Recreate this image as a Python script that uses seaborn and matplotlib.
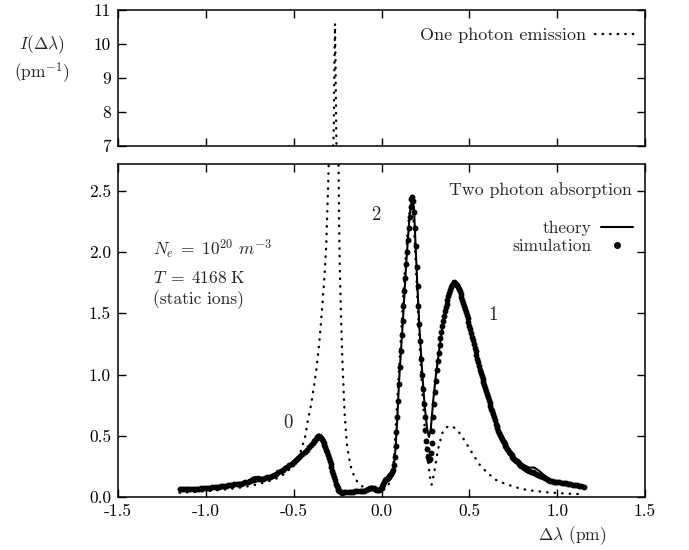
import numpy as np
import pandas as pd
import matplotlib
matplotlib.use("Agg")
import matplotlib.pyplot as plt
import seaborn as sns
from matplotlib.lines import Line2D

# ---------------- data ----------------
theory_x = [-1.15, -1.10, -1.05, -1.00, -0.95, -0.90, -0.85, -0.80, -0.76, -0.73,
            -0.70, -0.67, -0.64, -0.60, -0.56, -0.52, -0.48, -0.44, -0.40, -0.37,
            -0.35, -0.33, -0.31, -0.29, -0.27, -0.25, -0.23, -0.20, -0.15, -0.10,
            -0.07, -0.05, -0.03, 0.00, 0.02, 0.04, 0.06, 0.07, 0.08, 0.09,
            0.10, 0.12, 0.14, 0.16, 0.175, 0.185, 0.20, 0.215, 0.23, 0.245,
            0.26, 0.27, 0.28, 0.295, 0.31, 0.33, 0.35, 0.37, 0.39, 0.41,
            0.43, 0.45, 0.48, 0.51, 0.54, 0.57, 0.60, 0.63, 0.66, 0.70,
            0.75, 0.80, 0.84, 0.87, 0.90, 0.94, 0.98, 1.02, 1.06, 1.10, 1.15]
theory_y = [0.060, 0.062, 0.065, 0.070, 0.080, 0.090, 0.100, 0.110, 0.130, 0.160,
            0.165, 0.150, 0.160, 0.190, 0.230, 0.270, 0.320, 0.370, 0.430, 0.490,
            0.490, 0.440, 0.370, 0.270, 0.160, 0.080, 0.040, 0.040, 0.045, 0.050,
            0.070, 0.080, 0.060, 0.060, 0.120, 0.160, 0.200, 0.250, 0.400, 0.650,
            0.950, 1.400, 1.900, 2.300, 2.460, 2.350, 1.850, 1.400, 1.050, 0.750,
            0.550, 0.490, 0.550, 0.800, 1.000, 1.220, 1.420, 1.570, 1.700, 1.750,
            1.740, 1.670, 1.520, 1.340, 1.160, 0.980, 0.840, 0.700, 0.560, 0.440,
            0.330, 0.270, 0.240, 0.240, 0.210, 0.160, 0.130, 0.120, 0.110, 0.095, 0.085]

sim_x = [
    -1.1500, -1.1375, -1.1250, -1.1125, -1.1000, -1.0875, -1.0750, -1.0625, -1.0500, -1.0375,
    -1.0250, -1.0125, -1.0000, -0.9875, -0.9750, -0.9625, -0.9500, -0.9375, -0.9250, -0.9125,
    -0.9000, -0.8875, -0.8750, -0.8625, -0.8500, -0.8375, -0.8250, -0.8125, -0.8000, -0.7875,
    -0.7750, -0.7625, -0.7500, -0.7375, -0.7250, -0.7125, -0.7000, -0.6875, -0.6750, -0.6625,
    -0.6500, -0.6375, -0.6250, -0.6125, -0.6000, -0.5875, -0.5750, -0.5625, -0.5500, -0.5375,
    -0.5250, -0.5125, -0.5000, -0.4875, -0.4750, -0.4625, -0.4500, -0.4375, -0.4250, -0.4125,
    -0.4000, -0.3925, -0.3850, -0.3775, -0.3700, -0.3650, -0.3600, -0.3550, -0.3500, -0.3450,
    -0.3400, -0.3350, -0.3300, -0.3250, -0.3200, -0.3150, -0.3100, -0.3050, -0.3000, -0.2950,
    -0.2900, -0.2850, -0.2800, -0.2750, -0.2700, -0.2650, -0.2600, -0.2550, -0.2500, -0.2450,
    -0.2400, -0.2325, -0.2250, -0.2125, -0.2000, -0.1875, -0.1750, -0.1625, -0.1500, -0.1375,
    -0.1250, -0.1125, -0.1000, -0.0875, -0.0750, -0.0675, -0.0600, -0.0525, -0.0450, -0.0375,
    -0.0300, -0.0225, -0.0150, -0.0075, 0.0000, 0.0050, 0.0100, 0.0150, 0.0200, 0.0250,
    0.0300, 0.0350, 0.0400, 0.0450, 0.0500, 0.0550, 0.0600, 0.0650, 0.0700, 0.0750,
    0.0800, 0.0850, 0.0900, 0.0950, 0.1000, 0.1050, 0.1100, 0.1150, 0.1200, 0.1250,
    0.1300, 0.1350, 0.1400, 0.1450, 0.1500, 0.1550, 0.1600, 0.1650, 0.1700, 0.1750,
    0.1800, 0.1850, 0.1900, 0.1950, 0.2000, 0.2050, 0.2100, 0.2150, 0.2200, 0.2250,
    0.2300, 0.2350, 0.2400, 0.2450, 0.2500, 0.2550, 0.2600, 0.2650, 0.2700, 0.2750,
    0.2800, 0.2850, 0.2900, 0.2950, 0.3000, 0.3050, 0.3100, 0.3150, 0.3200, 0.3250,
    0.3300, 0.3350, 0.3400, 0.3450, 0.3500, 0.3550, 0.3600, 0.3650, 0.3700, 0.3750,
    0.3800, 0.3850, 0.3900, 0.3950, 0.4000, 0.4050, 0.4100, 0.4150, 0.4200, 0.4250,
    0.4300, 0.4350, 0.4400, 0.4450, 0.4500, 0.4550, 0.4600, 0.4650, 0.4700, 0.4750,
    0.4800, 0.4850, 0.4900, 0.4950, 0.5000, 0.5050, 0.5100, 0.5150, 0.5200, 0.5250,
    0.5300, 0.5350, 0.5400, 0.5450, 0.5500, 0.5550, 0.5600, 0.5650, 0.5700, 0.5750,
    0.5800, 0.5850, 0.5900, 0.5950, 0.6000, 0.6050, 0.6100, 0.6150, 0.6200, 0.6250,
    0.6300, 0.6350, 0.6400, 0.6450, 0.6500, 0.6550, 0.6600, 0.6650, 0.6700, 0.6750,
    0.6800, 0.6850, 0.6900, 0.6950, 0.7000, 0.7050, 0.7100, 0.7150, 0.7200, 0.7250,
    0.7300, 0.7350, 0.7400, 0.7450, 0.7500, 0.7550, 0.7600, 0.7650, 0.7700, 0.7750,
    0.7800, 0.7850, 0.7900, 0.7950, 0.8000, 0.8100, 0.8200, 0.8300, 0.8400, 0.8500,
    0.8600, 0.8700, 0.8800, 0.8900, 0.9000, 0.9100, 0.9200, 0.9300, 0.9400, 0.9500,
    0.9600, 0.9700, 0.9800, 0.9900, 1.0000, 1.0125, 1.0250, 1.0375, 1.0500, 1.0625,
    1.0750, 1.0875, 1.1000, 1.1125, 1.1250, 1.1375, 1.1500]
sim_y = [
    0.065, 0.066, 0.065, 0.064, 0.063, 0.065, 0.066, 0.067, 0.068, 0.069,
    0.070, 0.072, 0.073, 0.075, 0.077, 0.078, 0.080, 0.083, 0.085, 0.088,
    0.090, 0.093, 0.095, 0.098, 0.100, 0.103, 0.105, 0.108, 0.110, 0.115,
    0.120, 0.125, 0.130, 0.135, 0.140, 0.143, 0.145, 0.148, 0.150, 0.155,
    0.160, 0.167, 0.175, 0.182, 0.190, 0.200, 0.210, 0.222, 0.235, 0.247,
    0.260, 0.272, 0.285, 0.300, 0.315, 0.332, 0.350, 0.367, 0.385, 0.405,
    0.425, 0.440, 0.455, 0.468, 0.480, 0.488, 0.495, 0.494, 0.490, 0.481,
    0.470, 0.456, 0.440, 0.423, 0.405, 0.385, 0.365, 0.343, 0.320, 0.295,
    0.270, 0.243, 0.215, 0.188, 0.160, 0.135, 0.110, 0.090, 0.070, 0.056,
    0.045, 0.040, 0.035, 0.037, 0.040, 0.041, 0.042, 0.043, 0.045, 0.046,
    0.048, 0.050, 0.052, 0.058, 0.065, 0.070, 0.075, 0.073, 0.070, 0.065,
    0.060, 0.060, 0.060, 0.064, 0.070, 0.090, 0.110, 0.126, 0.140, 0.146,
    0.150, 0.155, 0.160, 0.170, 0.180, 0.190, 0.200, 0.220, 0.260, 0.330,
    0.420, 0.530, 0.650, 0.780, 0.920, 1.060, 1.190, 1.320, 1.440, 1.560,
    1.680, 1.790, 1.900, 2.000, 2.100, 2.200, 2.290, 2.370, 2.430, 2.450,
    2.420, 2.330, 2.200, 2.050, 1.880, 1.720, 1.560, 1.410, 1.270, 1.130,
    1.000, 0.880, 0.760, 0.650, 0.550, 0.460, 0.390, 0.330, 0.300, 0.310,
    0.360, 0.440, 0.540, 0.650, 0.760, 0.860, 0.950, 1.040, 1.110, 1.180,
    1.240, 1.300, 1.350, 1.400, 1.440, 1.480, 1.515, 1.548, 1.580, 1.610,
    1.640, 1.665, 1.690, 1.712, 1.730, 1.742, 1.750, 1.754, 1.750, 1.742,
    1.730, 1.716, 1.700, 1.680, 1.660, 1.636, 1.610, 1.585, 1.560, 1.535,
    1.510, 1.485, 1.460, 1.430, 1.400, 1.370, 1.340, 1.310, 1.280, 1.250,
    1.220, 1.190, 1.160, 1.130, 1.100, 1.070, 1.040, 1.015, 0.990, 0.965,
    0.940, 0.915, 0.890, 0.865, 0.840, 0.815, 0.790, 0.765, 0.740, 0.720,
    0.700, 0.675, 0.650, 0.625, 0.600, 0.580, 0.560, 0.540, 0.520, 0.505,
    0.490, 0.475, 0.460, 0.445, 0.430, 0.418, 0.405, 0.392, 0.380, 0.370,
    0.360, 0.350, 0.340, 0.330, 0.320, 0.312, 0.305, 0.297, 0.290, 0.282,
    0.275, 0.268, 0.262, 0.256, 0.250, 0.240, 0.230, 0.222, 0.215, 0.207,
    0.200, 0.195, 0.190, 0.182, 0.175, 0.168, 0.160, 0.152, 0.145, 0.137,
    0.130, 0.127, 0.125, 0.122, 0.120, 0.119, 0.118, 0.115, 0.112, 0.108,
    0.105, 0.101, 0.098, 0.094, 0.090, 0.087, 0.085]

emis_x = [-1.15, -1.10, -1.05, -1.00, -0.95, -0.90, -0.85, -0.80, -0.75, -0.70,
          -0.65, -0.60, -0.55, -0.50, -0.47, -0.45, -0.435, -0.42, -0.40, -0.385,
          -0.37, -0.355, -0.345, -0.335, -0.325, -0.315, -0.305, -0.30, -0.29, -0.28,
          -0.272, -0.268, -0.265, -0.262, -0.258, -0.25, -0.245, -0.242, -0.238, -0.231,
          -0.225, -0.219, -0.21, -0.198, -0.185, -0.17, -0.155, -0.14, -0.12, -0.10,
          -0.07, -0.04, -0.01, 0.02, 0.05, 0.07, 0.09, 0.11, 0.13, 0.15,
          0.165, 0.175, 0.185, 0.20, 0.215, 0.23, 0.245, 0.26, 0.275, 0.285,
          0.30, 0.32, 0.345, 0.37, 0.40, 0.43, 0.46, 0.49, 0.52, 0.56,
          0.60, 0.65, 0.70, 0.75, 0.80, 0.85, 0.90, 0.95, 1.00, 1.05, 1.10, 1.15]
emis_y = [0.035, 0.038, 0.042, 0.047, 0.053, 0.060, 0.068, 0.078, 0.090, 0.105,
          0.125, 0.150, 0.190, 0.260, 0.330, 0.420, 0.490, 0.620, 0.760, 0.900,
          1.050, 1.250, 1.420, 1.600, 1.800, 2.050, 2.500, 2.750, 4.000, 6.000,
          7.500, 9.500, 10.600, 9.500, 7.500, 5.000, 2.750, 2.300, 1.900, 1.500,
          1.200, 0.980, 0.680, 0.440, 0.320, 0.220, 0.170, 0.130, 0.100, 0.075,
          0.060, 0.050, 0.050, 0.070, 0.120, 0.300, 0.800, 1.300, 1.800, 2.200,
          2.400, 2.400, 2.200, 1.750, 1.300, 0.900, 0.580, 0.350, 0.170, 0.100,
          0.200, 0.380, 0.520, 0.570, 0.580, 0.550, 0.490, 0.420, 0.350, 0.260,
          0.200, 0.140, 0.110, 0.085, 0.065, 0.053, 0.045, 0.037, 0.032, 0.028, 0.025, 0.023]

x_ticks = [-1.5, -1.0, -0.5, 0.0, 0.5, 1.0, 1.5]
x_tick_labels = ["-1.5", "-1.0", "-0.5", "0.0", "0.5", "1.0", "1.5"]
top_y_ticks = [7, 8, 9, 10, 11]
top_y_labels = ["7", "8", "9", "10", "11"]
bot_y_ticks = [0.0, 0.5, 1.0, 1.5, 2.0, 2.5]
bot_y_labels = ["0.0", "0.5", "1.0", "1.5", "2.0", "2.5"]

theory = pd.DataFrame({"x": theory_x, "y": theory_y})
sim = pd.DataFrame({"x": sim_x, "y": sim_y})
emis = pd.DataFrame({"x": emis_x, "y": emis_y})

# ---------------- style ----------------
sns.set_theme(style="ticks")
plt.rcParams["font.family"] = ["cmr10", "DejaVu Serif"]
plt.rcParams["mathtext.fontset"] = "cm"
plt.rcParams["axes.formatter.use_mathtext"] = True
plt.rcParams["axes.unicode_minus"] = False
FS = 12.5
DOTS = (0.2, 3.0)

fig = plt.figure(figsize=(6.89, 5.50), dpi=100)
ax_top = fig.add_axes([0.1713, 0.7345, 0.7649, 0.2473])
ax_bot = fig.add_axes([0.1713, 0.0964, 0.7649, 0.6055])

for ax in (ax_top, ax_bot):
    sns.lineplot(data=emis, x="x", y="y", ax=ax, sort=False, estimator=None,
                 color="black", linewidth=1.7, legend=False)
    ln = ax.lines[-1]
    ln.set_dashes(DOTS)
    ln.set_dash_capstyle("round")

sns.lineplot(data=theory, x="x", y="y", ax=ax_bot, sort=False, estimator=None,
             color="black", linewidth=1.5, legend=False)
sns.scatterplot(data=sim, x="x", y="y", ax=ax_bot, color="black", s=18,
                linewidth=0, legend=False, zorder=3)

for ax in (ax_top, ax_bot):
    ax.set_xlim(-1.5, 1.5)
    ax.set_xticks(x_ticks)
    ax.set_xlabel("")
    ax.set_ylabel("")
    ax.tick_params(direction="in", length=6, width=1.0, top=True, right=True,
                   labelsize=FS, colors="black", pad=5)
    for sp in ax.spines.values():
        sp.set_linewidth(1.1)
        sp.set_color("black")
        sp.set_visible(True)

ax_top.set_ylim(7, 11)
ax_top.set_yticks(top_y_ticks)
ax_top.set_yticklabels(top_y_labels)
ax_top.set_xticklabels([])

ax_bot.set_ylim(0, 2.72)
ax_bot.set_yticks(bot_y_ticks)
ax_bot.set_yticklabels(bot_y_labels)
ax_bot.set_xticklabels(x_tick_labels)

# legends
h_emis = Line2D([], [], color="black", linewidth=1.7, dashes=DOTS,
                dash_capstyle="round")
ax_top.legend([h_emis], ["One photon emission"], loc="center right",
              bbox_to_anchor=(0.997, 0.816), frameon=False, fontsize=13,
              markerfirst=False, handlelength=2.2, borderpad=0,
              handletextpad=0.5)

ax_bot.text(0.975, 0.922, "Two photon absorption", transform=ax_bot.transAxes,
            ha="right", va="center", fontsize=12.8)
h_th = Line2D([], [], color="black", linewidth=1.5)
h_sim = Line2D([], [], color="black", linestyle="none", marker="o", markersize=4)
ax_bot.legend([h_th, h_sim], ["theory", "simulation"], loc="upper right",
              bbox_to_anchor=(0.993, 0.857), frameon=False, fontsize=FS,
              markerfirst=False, handlelength=1.8, borderpad=0,
              handletextpad=0.6, labelspacing=0.2)

# annotations
ax_bot.text(-0.035, 2.3, "2", fontsize=FS + 1, ha="center", va="center")
ax_bot.text(0.635, 1.49, "1", fontsize=FS + 1, ha="center", va="center")
ax_bot.text(-0.53, 0.60, "0", fontsize=FS + 1, ha="center", va="center")
ax_bot.text(0.066, 0.742, r"$N_e\;=\;10^{20}\ m^{-3}$", transform=ax_bot.transAxes,
            ha="left", va="center", fontsize=FS)
ax_bot.text(0.066, 0.658, r"$T\;=\;4168\ \mathrm{K}$", transform=ax_bot.transAxes,
            ha="left", va="center", fontsize=FS)
ax_bot.text(0.066, 0.592, "(static ions)", transform=ax_bot.transAxes,
            ha="left", va="center", fontsize=FS)

fig.text(0.061, 0.918, r"$I(\Delta\lambda)$", ha="center", va="center", fontsize=FS)
fig.text(0.061, 0.869, r"(pm$^{-1}$)", ha="center", va="center", fontsize=FS)
fig.text(0.830, 0.027, r"$\Delta\lambda$ (pm)", ha="center", va="center", fontsize=FS)

fig.savefig("out.png", dpi=100)
